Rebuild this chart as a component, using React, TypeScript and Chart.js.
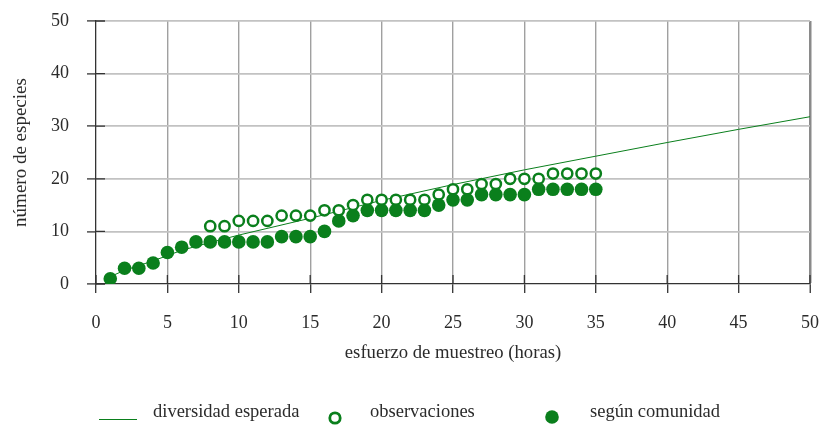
import { useEffect, useRef } from 'react';
import { Chart, registerables } from 'chart.js';

Chart.register(...registerables);

// Sampling effort (hours) for each survey step
const effortHours = [
  1, 2, 3, 4, 5, 6, 7, 8, 9, 10, 11, 12, 13, 14, 15, 16, 17, 18,
  19, 20, 21, 22, 23, 24, 25, 26, 27, 28, 29, 30, 31, 32, 33, 34, 35,
];

// Species counted directly (no record before hour 8)
const observedSpecies = [
  null, null, null, null, null, null, null, 11, 11, 12, 12, 12, 13, 13, 13, 14, 14, 15,
  16, 16, 16, 16, 16, 17, 18, 18, 19, 19, 20, 20, 20, 21, 21, 21, 21,
];

// Species according to the community
const communitySpecies = [
  1, 3, 3, 4, 6, 7, 8, 8, 8, 8, 8, 8, 9, 9, 9, 10, 12, 13,
  14, 14, 14, 14, 14, 15, 16, 16, 17, 17, 17, 17, 18, 18, 18, 18, 18,
];

// Expected diversity curve
const expectedEffort = [1, 2, 4, 6, 8, 10, 15, 20, 25, 30, 35, 40, 45, 50, 51];
const expectedSpecies = [1.4, 2.6, 4.4, 6.4, 7.9, 9.3, 12.5, 15.9, 18.9, 21.7, 24.3, 26.9, 29.4, 31.8, 32.3];

const seriesLabels = ['diversidad esperada', 'observaciones', 'según comunidad'];
const xAxisTitle = 'esfuerzo de muestreo (horas)';
const yAxisTitle = 'número de especies';

const GREEN = '#0a7f1c';
const TEXT = '#2b2b2b';
const FONT = "'Liberation Serif', 'Times New Roman', serif";

const toPoints = (xs: number[], ys: (number | null)[]) =>
  xs.map((x, i) => ({ x, y: ys[i] })).filter((p) => p.y !== null) as { x: number; y: number }[];

// Tick marks that cross the axis lines, plus the bottom legend row
const axisDecor = {
  id: 'axisDecor',
  afterDraw(chart: any) {
    const { ctx, chartArea, scales } = chart;
    const xs = scales.x;
    const ys = scales.y;
    ctx.save();
    ctx.strokeStyle = '#333';
    ctx.lineWidth = 1.3;
    ctx.beginPath();
    xs.ticks.forEach((t: any) => {
      const px = xs.getPixelForValue(t.value);
      ctx.moveTo(px, chartArea.bottom);
      ctx.lineTo(px, chartArea.bottom - 9);
    });
    ys.ticks.forEach((t: any) => {
      const py = ys.getPixelForValue(t.value);
      ctx.moveTo(chartArea.left, py);
      ctx.lineTo(chartArea.left + 9, py);
    });
    ctx.stroke();

    // legend
    ctx.font = `18.5px ${FONT}`;
    ctx.fillStyle = TEXT;
    ctx.textBaseline = 'alphabetic';
    ctx.textAlign = 'left';
    const baseY = 417;

    ctx.strokeStyle = GREEN;
    ctx.lineWidth = 1;
    ctx.beginPath();
    ctx.moveTo(99, 419.5);
    ctx.lineTo(137, 419.5);
    ctx.stroke();
    ctx.fillText(seriesLabels[0], 153, baseY);

    ctx.beginPath();
    ctx.lineWidth = 2.8;
    ctx.arc(335, 418, 5.2, 0, Math.PI * 2);
    ctx.fillStyle = '#fff';
    ctx.fill();
    ctx.stroke();
    ctx.fillStyle = TEXT;
    ctx.fillText(seriesLabels[1], 370, baseY);

    ctx.beginPath();
    ctx.fillStyle = GREEN;
    ctx.arc(552, 417, 6.8, 0, Math.PI * 2);
    ctx.fill();
    ctx.fillStyle = TEXT;
    ctx.fillText(seriesLabels[2], 590, baseY);
    ctx.restore();
  },
};

export default function App() {
  const canvasRef = useRef<HTMLCanvasElement | null>(null);

  useEffect(() => {
    const canvas = canvasRef.current;
    if (!canvas) return;
    const chart = new Chart(canvas, {
      type: 'scatter',
      data: {
        datasets: [
          {
            label: seriesLabels[0],
            data: toPoints(expectedEffort, expectedSpecies),
            showLine: true,
            borderColor: GREEN,
            borderWidth: 1,
            pointRadius: 0,
            clip: false as any,
            order: 3,
          },
          {
            label: seriesLabels[1],
            data: toPoints(effortHours, observedSpecies),
            pointRadius: 5.1,
            pointBorderWidth: 2.5,
            borderColor: GREEN,
            backgroundColor: '#ffffff',
            order: 2,
          },
          {
            label: seriesLabels[2],
            data: toPoints(effortHours, communitySpecies),
            pointRadius: 6.8,
            pointBorderWidth: 0,
            borderColor: GREEN,
            backgroundColor: GREEN,
            order: 1,
          },
        ],
      },
      options: {
        responsive: false,
        animation: false,
        layout: { padding: { left: 0, top: 21, right: 13, bottom: 0 } },
        plugins: { legend: { display: false }, tooltip: { enabled: false } },
        scales: {
          x: {
            type: 'linear',
            min: 0,
            max: 50,
            afterFit: (scale: any) => {
              scale.height = 143;
              scale.paddingLeft = 0;
              scale.paddingRight = 0;
            },
            ticks: {
              stepSize: 5,
              padding: 19,
              color: TEXT,
              font: { family: FONT, size: 18 },
            },
            grid: {
              color: (c: any) =>
                c.tick && c.tick.value === 0 ? 'rgba(0,0,0,0)' : c.tick && c.tick.value === 50 ? '#8a8a8a' : '#a0a0a0',
              lineWidth: (c: any) => (c.tick && c.tick.value === 50 ? 2.5 : 1.4),
              tickColor: '#333',
              tickLength: 9,
              tickWidth: 1.3,
            },
            border: { color: '#333', width: 1.3 },
            title: {
              display: true,
              text: xAxisTitle,
              color: TEXT,
              font: { family: FONT, size: 18.7 },
              padding: { top: 0, bottom: 62.5 },
            },
          },
          y: {
            type: 'linear',
            min: 0,
            max: 50,
            afterFit: (scale: any) => {
              scale.width = 96;
              scale.paddingTop = 0;
              scale.paddingBottom = 0;
            },
            ticks: {
              stepSize: 10,
              padding: 18,
              color: TEXT,
              font: { family: FONT, size: 18 },
            },
            grid: {
              color: (c: any) => (c.tick && c.tick.value === 0 ? 'rgba(0,0,0,0)' : '#c2c2c2'),
              lineWidth: 1.8,
              tickColor: '#333',
              tickLength: 9,
              tickWidth: 1.3,
            },
            border: { color: '#333', width: 1.3 },
            title: {
              display: true,
              text: yAxisTitle,
              color: TEXT,
              font: { family: FONT, size: 19 },
              padding: { top: 9.3, bottom: 0 },
            },
          },
        },
      },
      plugins: [axisDecor],
    });
    return () => chart.destroy();
  }, []);

  return (
    <div style={{ position: 'absolute', left: 0, top: 0, width: 823, height: 427, background: '#fff' }}>
      <canvas ref={canvasRef} width={823} height={427} />
    </div>
  );
}
